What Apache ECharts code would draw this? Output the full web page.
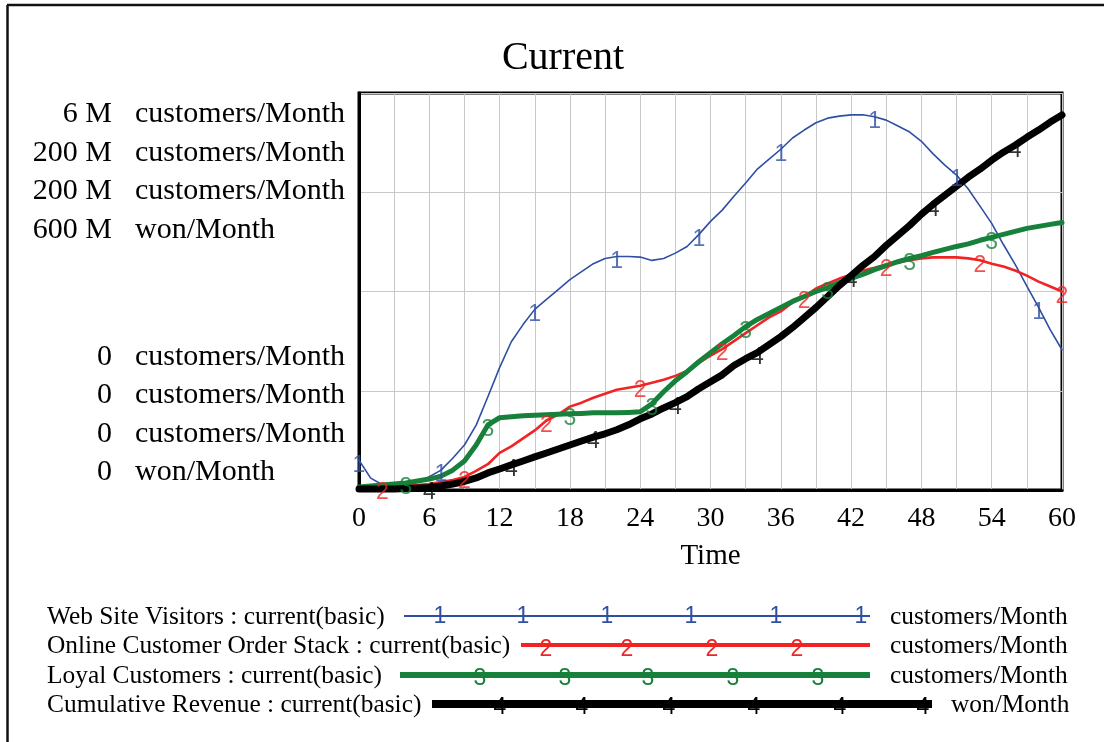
<!DOCTYPE html>
<html>
<head>
<meta charset="utf-8">
<script src="https://cdn.jsdelivr.net/npm/echarts@6/dist/echarts.min.js"></script>
<style>
html,body{margin:0;padding:0;background:#fff;}
#chart{width:1104px;height:742px;}
</style>
</head>
<body>
<div id="chart"></div>
<script>
// ---- Data ----
const time = [0,1,2,3,4,5,6,7,8,9,10,11,12,13,14,15,16,17,18,19,20,21,22,23,24,25,26,27,28,29,30,31,32,33,34,35,36,37,38,39,40,41,42,43,44,45,46,47,48,49,50,51,52,53,54,55,56,57,58,59,60];

// Web Site Visitors (customers/Month), millions
const webSiteVisitors = [0.45,0.18,0.08,0.06,0.08,0.12,0.2,0.3,0.48,0.68,0.98,1.41,1.85,2.24,2.5,2.73,2.88,3.03,3.18,3.3,3.42,3.5,3.53,3.53,3.52,3.47,3.5,3.58,3.68,3.86,4.06,4.23,4.44,4.64,4.85,5.0,5.15,5.32,5.44,5.55,5.62,5.65,5.67,5.67,5.64,5.59,5.5,5.41,5.27,5.08,4.91,4.76,4.55,4.29,4.03,3.71,3.41,3.08,2.76,2.42,2.12];

// Online Customer Order Stack (customers/Month), millions
const onlineOrderStack = [1,1,1,1.5,2,2.5,3,4,5,6.6,9.6,13,18.7,22,26,30,35,38,42,44,46.5,48.5,50.5,51.5,52.5,54,55.5,57.5,60,64,67.7,71,75,79,83,87,90,94.5,97.5,101.5,104,106.5,108.5,110.6,112,113.6,114.6,115.7,116.7,117.2,117.2,117.2,116.7,115.7,114,112.6,110.6,108,105,102.5,100];

// Loyal Customers (customers/Month), millions
const loyalCustomers = [1.5,2,2.5,3,3.5,4.5,5.5,7,10,14.6,22.7,32.8,36.4,36.9,37.4,37.6,37.9,38.1,38.4,38.6,38.9,38.9,38.9,39.1,39.4,43.4,49.5,55,59.6,64.6,69.2,73.7,77.8,82.3,85.9,88.9,92,95,97.5,100,102,104.5,106.6,108.6,111,113,115,116.7,118,119.7,121.2,122.7,124,125.8,127.3,128.8,130.3,131.8,132.8,133.8,134.8];

// Cumulative Revenue (won/Month), millions
const cumulativeRevenue = [1.5,1.5,1.5,1.5,2.3,3,3.8,6,9,12.9,18.2,25.8,31.8,37.9,43.9,50,56,62,68,74,80,85,91,98.5,107.6,115,124,132,141,153,163.6,174,188,198.5,207.6,219.7,231.8,245.5,260.6,275.8,292.4,309,324,339.4,353,369.7,384.8,400,416.7,431.8,445.5,459,472.7,484.8,498.5,510.6,521,533,544,556,566.7];

// Scale maxima (millions) and scale labels
const scaleMax = [6, 200, 200, 600];
const scaleTopLabels = ['6 M', '200 M', '200 M', '600 M'];
const scaleBottomLabels = ['0', '0', '0', '0'];
const scaleUnits = ['customers/Month', 'customers/Month', 'customers/Month', 'won/Month'];

const seriesNames = ['Web Site Visitors : current(basic)', 'Online Customer Order Stack : current(basic)', 'Loyal Customers : current(basic)', 'Cumulative Revenue : current(basic)'];
const markerTexts = ['1', '2', '3', '4'];
const markerIdx = [
  [0,7,15,22,29,36,44,51,58],
  [2,9,16,24,31,38,45,53,60],
  [4,11,18,25,33,40,47,54],
  [6,13,20,27,34,42,49,56]
];
const xTickLabels = [0,6,12,18,24,30,36,42,48,54,60];

// ---- Styles ----
const colors = ['#2f4fa5', '#f02424', '#17803a', '#000000'];
const widths = [1.6, 2.6, 5, 7];
const serif = "'Liberation Serif','Times New Roman',serif";
const sans = "'Liberation Sans',Arial,sans-serif";
const allValues = [webSiteVisitors, onlineOrderStack, loyalCustomers, cumulativeRevenue];

const chart = echarts.init(document.getElementById('chart'), null, {renderer: 'canvas'});

const yAxes = scaleMax.map((m, i) => ({
  type: 'value', min: 0, max: m, interval: m / 4,
  show: i === 0,
  axisLine: {show: true, lineStyle: {color: '#000', width: 3}},
  axisTick: {show: false},
  axisLabel: {show: false},
  splitLine: {show: i === 0, lineStyle: {color: '#c8c8c8', width: 1}}
}));

const series = [];
allValues.forEach((vals, i) => {
  series.push({
    type: 'line', name: seriesNames[i], yAxisIndex: i,
    data: time.map((t, k) => [t, vals[k]]),
    showSymbol: false, symbol: 'none', smooth: false,
    lineStyle: {color: colors[i], width: widths[i], cap: 'round', join: 'round'},
    z: 2 + i, silent: true, animation: false
  });
});
allValues.forEach((vals, i) => {
  series.push({
    type: 'scatter', yAxisIndex: i,
    data: markerIdx[i].map(k => [time[k], vals[k]]),
    symbol: 'circle', symbolSize: 1,
    itemStyle: {color: 'transparent'},
    label: {show: true, position: 'inside', offset: [0, 5], formatter: markerTexts[i],
      color: colors[i], fontFamily: sans, fontSize: 23},
    z: 10, silent: true, animation: false
  });
});

// ---- Graphic: frame, scale labels, legend ----
const graphics = [];
graphics.push({type: 'line', shape: {x1: 7, y1: 5, x2: 1104, y2: 5}, style: {stroke: '#111', lineWidth: 2.5}});
graphics.push({type: 'line', shape: {x1: 7.5, y1: 5, x2: 7.5, y2: 742}, style: {stroke: '#111', lineWidth: 2.5}});

const topYs = [114, 153, 191, 230];
const botYs = [357, 395, 434, 472];
const lblFont = '30px ' + serif;
for (let i = 0; i < 4; i++) {
  graphics.push({type: 'text', x: 112, y: topYs[i], style: {text: scaleTopLabels[i], font: lblFont, fill: '#000', align: 'right', verticalAlign: 'middle'}});
  graphics.push({type: 'text', x: 135, y: topYs[i], style: {text: scaleUnits[i], font: lblFont, fill: '#000', align: 'left', verticalAlign: 'middle'}});
  graphics.push({type: 'text', x: 112, y: botYs[i], style: {text: scaleBottomLabels[i], font: lblFont, fill: '#000', align: 'right', verticalAlign: 'middle'}});
  graphics.push({type: 'text', x: 135, y: botYs[i], style: {text: scaleUnits[i], font: lblFont, fill: '#000', align: 'left', verticalAlign: 'middle'}});
}

// legend
const legRowY = [616, 645, 675, 704];
const legLine = [[404, 870], [521, 870], [400, 870], [432, 932]];
const legLineW = [2, 4, 6, 8];
const legMarkX = [[440, 523, 607, 691, 776, 861], [546, 627, 712, 797], [480, 565, 648, 733, 818], [500, 582, 669, 754, 840, 923]];
const legMarkDy = [1, 5, 4, 4];
const legUnitX = [890, 890, 890, 951];
const legFont = '25.4px ' + serif;
for (let i = 0; i < 4; i++) {
  graphics.push({type: 'text', x: 47, y: legRowY[i] + 1, style: {text: seriesNames[i], font: legFont, fill: '#000', align: 'left', verticalAlign: 'middle'}});
  graphics.push({type: 'line', shape: {x1: legLine[i][0], y1: legRowY[i], x2: legLine[i][1], y2: legRowY[i]}, style: {stroke: colors[i], lineWidth: legLineW[i]}});
  legMarkX[i].forEach(x => {
    graphics.push({type: 'text', x: x, y: legRowY[i] + legMarkDy[i], style: {text: markerTexts[i], font: '23px ' + sans, fill: colors[i], align: 'center', verticalAlign: 'middle'}, z: 5});
  });
  graphics.push({type: 'text', x: legUnitX[i], y: legRowY[i] + 1, style: {text: scaleUnits[i], font: legFont, fill: '#000', align: 'left', verticalAlign: 'middle'}});
}

chart.setOption({
  animation: false,
  backgroundColor: '#fff',
  title: {text: 'Current', left: 558, top: 33, textAlign: 'center',
    textStyle: {fontFamily: serif, fontSize: 40, fontWeight: 'normal', color: '#000'}},
  grid: {left: 359, right: 42, top: 93, bottom: 252, show: true, borderColor: '#000', borderWidth: 3, backgroundColor: '#fff'},
  xAxis: {
    type: 'value', min: 0, max: 60, interval: 3,
    axisLine: {show: true, lineStyle: {color: '#000', width: 3}},
    axisTick: {show: false},
    axisLabel: {fontFamily: serif, fontSize: 28, color: '#000', margin: 15,
      formatter: v => (xTickLabels.indexOf(v) >= 0 ? String(v) : '')},
    splitLine: {show: true, lineStyle: {color: '#c8c8c8', width: 1}},
    name: 'Time', nameLocation: 'middle', nameGap: 52,
    nameTextStyle: {fontFamily: serif, fontSize: 29, color: '#000'}
  },
  yAxis: yAxes,
  series: series,
  graphic: graphics
});
</script>
</body>
</html>
